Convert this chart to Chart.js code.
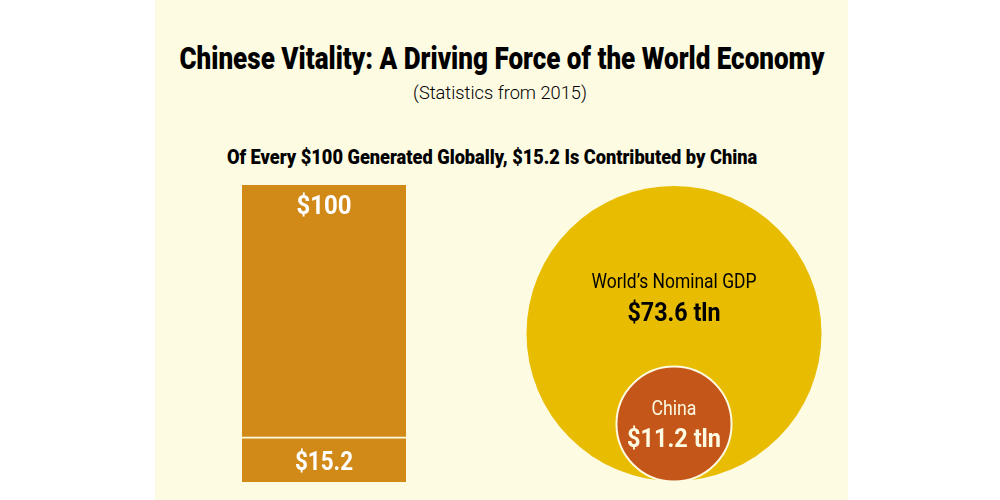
<!DOCTYPE html>
<html>
<head>
<meta charset="utf-8">
<script src="https://cdn.jsdelivr.net/npm/chart.js@4"></script>
<style>
  html, body { margin: 0; background: #fff; overflow: hidden; }
  #panel { position: absolute; left: 155px; top: 0; width: 693px; height: 500px; background: #fefbe3; }
  .txt { position: absolute; left: 0; width: 1000px; text-align: center; color: #000; white-space: nowrap; font-family: Roboto, sans-serif; }
  #title { left: 2px; top: 40px; font-size: 31px; line-height: 38px; font-weight: 900; transform: scaleX(0.84); }
  #sub { top: 81px; font-size: 19px; line-height: 24px; font-weight: 300; transform: scaleX(0.96); }
  #head { left: -8px; top: 145px; font-size: 20px; line-height: 24px; font-weight: 900; transform: scaleX(0.91); }
  #barBox { position: absolute; left: 242px; top: 185px; width: 164px; height: 297px; }
  #bubbleBox { position: absolute; left: 526px; top: 185px; width: 296px; height: 297px; }
</style>
</head>
<body>
<div id="panel"></div>
<div class="txt" id="title">Chinese Vitality: A Driving Force of the World Economy</div>
<div class="txt" id="sub">(Statistics from 2015)</div>
<div class="txt" id="head">Of Every $100 Generated Globally, $15.2 Is Contributed by China</div>
<div id="barBox"><canvas id="barChart"></canvas></div>
<div id="bubbleBox"><canvas id="bubbleChart"></canvas></div>
<script>
const barCategories = ['Share'];
const barTotal = [100];
const barChina = [15.2];
const gdpNames = ["World\u2019s Nominal GDP", 'China'];
const gdpValues = [73.6, 11.2];

const ff = 'Roboto, sans-serif';

Chart.defaults.responsive = true;
Chart.defaults.maintainAspectRatio = false;
Chart.defaults.plugins.legend.display = false;
Chart.defaults.plugins.tooltip.enabled = false;

// maxWidth squeezes the text, the reference uses a condensed face
function label(ctx, text, x, y, font, color, maxWidth) {
    ctx.save();
    ctx.font = font;
    ctx.fillStyle = color;
    ctx.textAlign = 'center';
    ctx.textBaseline = 'middle';
    ctx.fillText(text, x, y, maxWidth);
    ctx.restore();
}

// Value labels on the bar
const barLabels = {
    id: 'barLabels',
    afterDatasetsDraw(chart) {
        const x = chart.getDatasetMeta(0).data[0].x;
        const y = chart.scales.y;
        label(chart.ctx, '$' + barTotal[0], x, y.getPixelForValue(barTotal[0]) + 22, 'bold 26px ' + ff, '#fff', 55);
        label(chart.ctx, '$' + barChina[0], x, y.getPixelForValue(barChina[0] / 2) + 4, 'bold 26px ' + ff, '#fff', 58);
    }
};

new Chart(document.getElementById('barChart'), {
    type: 'bar',
    data: {
        labels: barCategories,
        datasets: [
            { data: barChina, backgroundColor: '#d18a18', borderColor: '#fefbe3', borderWidth: { top: 2 }, borderSkipped: false, order: 1 },
            { data: barTotal, backgroundColor: '#d18a18', borderWidth: 0, order: 2 }
        ]
    },
    options: {
        animation: false,
        barPercentage: 1,
        categoryPercentage: 1,
        scales: {
            x: { display: false, stacked: true },
            y: { display: false, min: 0, max: 100 }
        }
    },
    plugins: [barLabels]
});

// Circle area follows the value, both circles rest on the same baseline
const maxRoot = Math.sqrt(Math.max(...gdpValues));
const pxPerRoot = 147.5 / maxRoot;
const bubbleLabels = {
    id: 'bubbleLabels',
    afterDatasetsDraw(chart) {
        const ctx = chart.ctx;
        const x = chart.getDatasetMeta(0).data[0].x;
        label(ctx, gdpNames[0], x, 98, '21px ' + ff, '#000', 165);
        label(ctx, '$' + gdpValues[0] + ' tln', x, 129, 'bold 26px ' + ff, '#000', 93);
        label(ctx, gdpNames[1], x, 225, '21px ' + ff, '#fefbe3', 45);
        label(ctx, '$' + gdpValues[1] + ' tln', x, 255, 'bold 26px ' + ff, '#fefbe3', 94);
    }
};

new Chart(document.getElementById('bubbleChart'), {
    type: 'bubble',
    data: {
        datasets: [{
            data: gdpValues.map(v => ({ x: 0, y: Math.sqrt(v), r: Math.sqrt(v) * pxPerRoot })),
            backgroundColor: ['#e8bc00', '#c4561a'],
            borderColor: ['#e8bc00', '#fefbe3'],
            borderWidth: [0, 2],
            clip: false
        }]
    },
    options: {
        animation: false,
        layout: { autoPadding: false },
        scales: {
            x: { display: false, min: -1, max: 1 },
            y: { display: false, min: 0, max: 2 * maxRoot }
        }
    },
    plugins: [bubbleLabels]
});
</script>
</body>
</html>
